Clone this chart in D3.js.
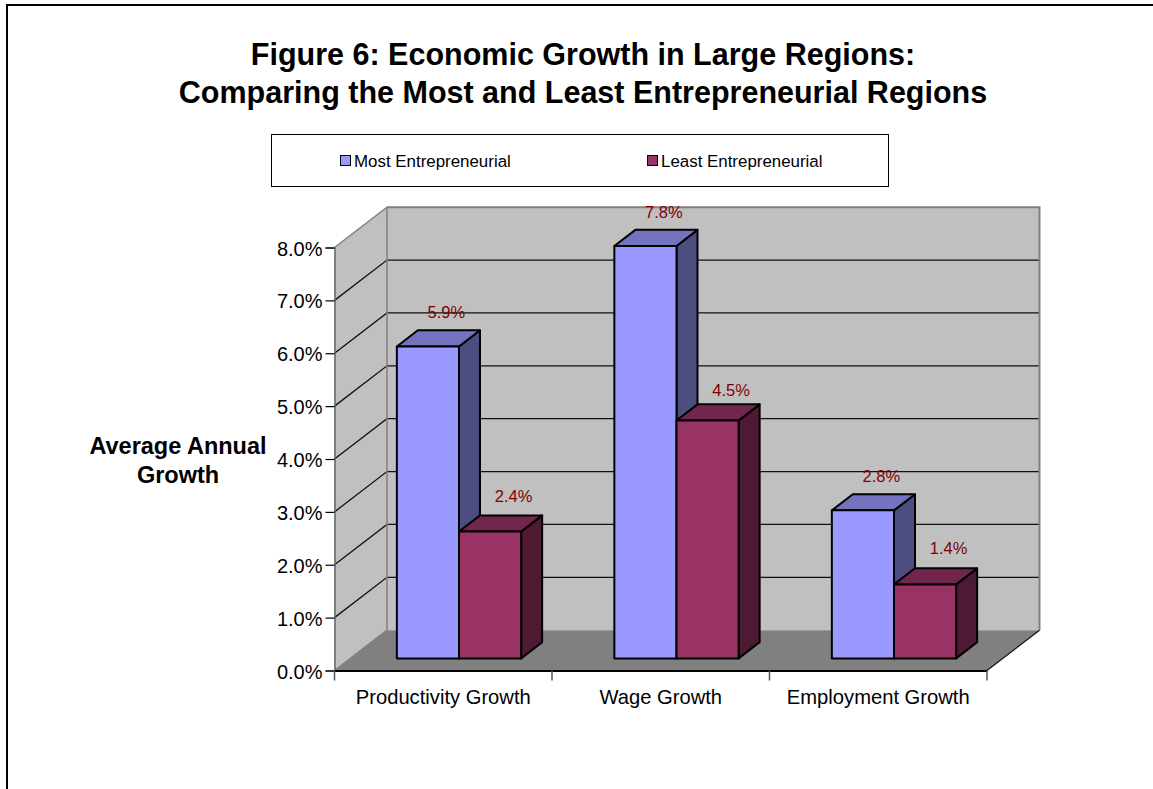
<!DOCTYPE html>
<html>
<head>
<meta charset="utf-8">
<script src="https://cdn.jsdelivr.net/npm/d3@7/dist/d3.min.js"></script>
<style>
html,body{margin:0;padding:0;background:#fff;overflow:hidden}
svg{display:block}
text{font-family:"Liberation Sans",Arial,sans-serif}
</style>
</head>
<body>
<svg id="chart" width="1153" height="789"></svg>
<script>
const categories = ["Productivity Growth", "Wage Growth", "Employment Growth"];
const seriesNames = ["Most Entrepreneurial", "Least Entrepreneurial"];
const mostEntrepreneurial = [5.9, 7.8, 2.8];
const leastEntrepreneurial = [2.4, 4.5, 1.4];
const yTicks = [0, 1, 2, 3, 4, 5, 6, 7, 8];
const titleLines = ["Figure 6: Economic Growth in Large Regions:", "Comparing the Most and Least Entrepreneurial Regions"];
const yTitleLines = ["Average Annual", "Growth"];

const svg = d3.select("#chart");

// Oblique projection: a point's depth (0 front, 1 back) shifts it right and up.
const depthX = 52.5, depthY = 40.3;
const y = d3.scaleLinear().domain([0, 8]).range([670.5, 247.5]);
const x = d3.scaleBand().domain(categories).range([334.5, 987]);
const inner = d3.scaleBand().domain(seriesNames).range([0, x.bandwidth()]).paddingOuter(0.75).paddingInner(0);
const project = (px, v, d) => [px + d * depthX, y(v) - d * depthY];
const poly = pts => pts.map(p => p.join(",")).join(" ");

const x0 = x.range()[0], x1 = x.range()[1], yMax = y.domain()[1];

// Page frame along the top and left edges
svg.append("path").attr("d", "M7,789V5H1153").attr("fill", "none").attr("stroke", "#000").attr("stroke-width", 2);

// Title
svg.append("g").selectAll("text").data(titleLines).join("text")
  .attr("x", 583).attr("y", (d, i) => 65 + i * 38)
  .attr("text-anchor", "middle").attr("font-weight", "bold").attr("font-size", 30.5).attr("fill", "#000")
  .text(d => d);

// Legend
const legend = svg.append("g");
legend.append("rect").attr("x", 271.5).attr("y", 134.5).attr("width", 617).attr("height", 52)
  .attr("fill", "#fff").attr("stroke", "#000").attr("stroke-width", 1);
const legendColors = ["#9999ff", "#993366"];
const legendX = [340, 647];
seriesNames.forEach((name, i) => {
  legend.append("rect").attr("x", legendX[i] + 0.5).attr("y", 155.5).attr("width", 10).attr("height", 10)
    .attr("fill", legendColors[i]).attr("stroke", "#000").attr("stroke-width", 1);
  legend.append("text").attr("x", legendX[i] + 14).attr("y", 167).attr("font-size", 16.9).attr("fill", "#000").text(name);
});

// Walls and floor
const scene = svg.append("g");
scene.append("polygon")
  .attr("points", poly([project(x0, 0, 0), project(x0, yMax, 0), project(x0, yMax, 1), project(x0, 0, 1)]))
  .attr("fill", "#c0c0c0");
scene.append("polygon")
  .attr("points", poly([project(x0, 0, 1), project(x0, yMax, 1), project(x1, yMax, 1), project(x1, 0, 1)]))
  .attr("fill", "#c0c0c0");
scene.append("polygon")
  .attr("points", poly([project(x0, 0, 0), project(x1, 0, 0), project(x1, 0, 1), project(x0, 0, 1)]))
  .attr("fill", "#808080");

// Gridlines wrapping the side and back walls
scene.append("g").selectAll("polyline").data(yTicks.filter(t => t > 0 && t < yMax)).join("polyline")
  .attr("points", t => poly([project(x0, t, 0), project(x0, t, 1), project(x1, t, 1)]))
  .attr("fill", "none").attr("stroke", "#111").attr("stroke-width", 1.3);

// Wall outlines
scene.append("polyline")
  .attr("points", poly([project(x0, 0, 0), project(x0, 0, 1), project(x0, yMax, 1), project(x0, yMax, 0)]))
  .attr("fill", "none").attr("stroke", "#808080").attr("stroke-width", 1.5);
scene.append("polyline")
  .attr("points", poly([project(x0, yMax, 1), project(x1, yMax, 1), project(x1, 0, 1)]))
  .attr("fill", "none").attr("stroke", "#808080").attr("stroke-width", 2);
scene.append("line")
  .attr("x1", project(x1, 0, 0)[0]).attr("y1", project(x1, 0, 0)[1])
  .attr("x2", project(x1, 0, 1)[0]).attr("y2", project(x1, 0, 1)[1])
  .attr("stroke", "#111").attr("stroke-width", 1.2);

// Value axis
const yAxis = d3.axisLeft(y).tickValues(yTicks).tickSize(9).tickPadding(3).tickFormat(d => d.toFixed(1) + "%");
const yG = svg.append("g").attr("transform", `translate(${x0},0)`).call(yAxis);
yG.select(".domain").attr("stroke", "#666").attr("stroke-width", 1.5);
yG.selectAll(".tick line").attr("stroke", "#000").attr("stroke-width", 1.2);
yG.selectAll("text").attr("font-size", 20).attr("dy", "0.38em").attr("fill", "#000").style("font-family", '"Liberation Sans",Arial,sans-serif');

// Category axis
const xAxis = d3.axisBottom(x).tickSize(0).tickPadding(19);
const xG = svg.append("g").attr("transform", `translate(0,${y(0)})`).call(xAxis);
xG.select(".domain").attr("stroke", "#000").attr("stroke-width", 2);
xG.selectAll("text").attr("font-size", 20.2).attr("fill", "#000").style("font-family", '"Liberation Sans",Arial,sans-serif');
const xBounds = [...categories.map(c => x(c)), x1];
svg.append("g").selectAll("line").data(xBounds).join("line")
  .attr("x1", d => d).attr("x2", d => d).attr("y1", y(0)).attr("y2", y(0) + 10)
  .attr("stroke", "#555").attr("stroke-width", 1.5);

// Axis title
svg.append("g").selectAll("text").data(yTitleLines).join("text")
  .attr("x", 178).attr("y", (d, i) => 454 + i * 29)
  .attr("text-anchor", "middle").attr("font-weight", "bold").attr("font-size", 23.5).attr("fill", "#000")
  .text(d => d);

// 3D columns, each centred in the floor's depth
const barNear = 0.3, barFar = 0.7;
const styles = [
  { front: "#9999ff", roof: "#7373bf", side: "#4d4d80", labelShift: 18.5, labelRise: [28, 27.7, 28] },
  { front: "#993366", roof: "#73264d", side: "#4d1933", labelShift: 23.5, labelRise: [29.5, 24.8, 30.4] }
];
const seriesValues = [mostEntrepreneurial, leastEntrepreneurial];
const bars = svg.append("g");
categories.forEach((cat, c) => {
  seriesNames.forEach((name, s) => {
    const v = seriesValues[s][c];
    const st = styles[s];
    const l = x(cat) + inner(name), r = l + inner.bandwidth();
    const g = bars.append("g").attr("stroke", "#000").attr("stroke-width", 2).attr("stroke-linejoin", "round");
    g.append("polygon").attr("fill", st.side)
      .attr("points", poly([project(r, 0, barNear), project(r, v, barNear), project(r, v, barFar), project(r, 0, barFar)]));
    g.append("polygon").attr("fill", st.roof)
      .attr("points", poly([project(l, v, barNear), project(r, v, barNear), project(r, v, barFar), project(l, v, barFar)]));
    g.append("polygon").attr("fill", st.front)
      .attr("points", poly([project(l, 0, barNear), project(r, 0, barNear), project(r, v, barNear), project(l, v, barNear)]));
  });
});

// Value labels float above each column
const labels = svg.append("g");
categories.forEach((cat, c) => {
  seriesNames.forEach((name, s) => {
    const v = seriesValues[s][c];
    const l = x(cat) + inner(name), r = l + inner.bandwidth();
    const p = project((l + r) / 2, v, barNear);
    labels.append("text").attr("x", p[0] + styles[s].labelShift).attr("y", p[1] - styles[s].labelRise[c])
      .attr("text-anchor", "middle").attr("font-size", 16.5).attr("fill", "#800000")
      .text(v.toFixed(1) + "%");
  });
});
</script>
</body>
</html>
